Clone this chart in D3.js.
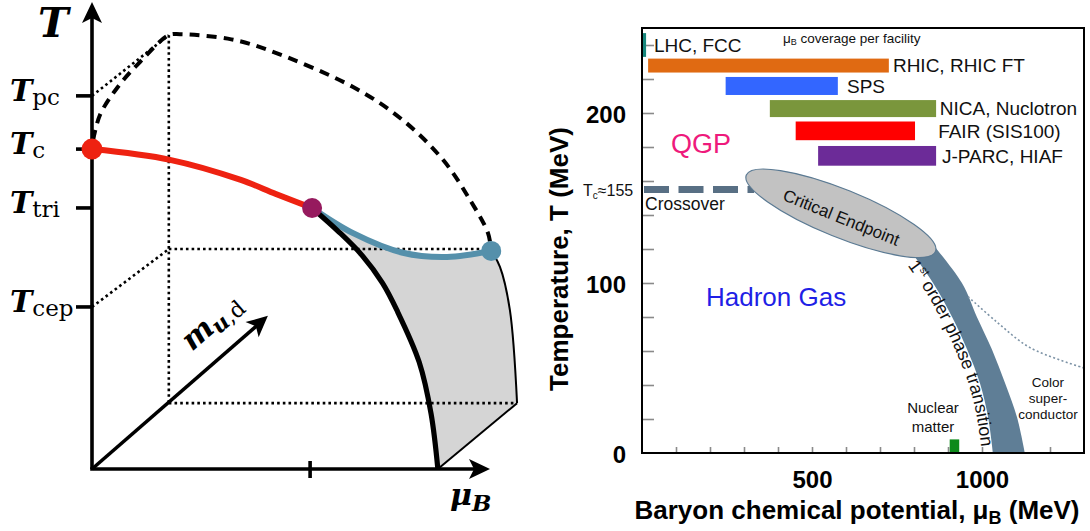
<!DOCTYPE html>
<html><head><meta charset="utf-8">
<script src="https://cdn.jsdelivr.net/npm/d3@7"></script>
<style>
  body { margin: 0; background: #fff; }
  svg { display: block; }
</style>
</head><body>
<svg id="fig" width="1090" height="531"></svg>
<script>
// ================= Left panel: schematic (mu_B, T, m_ud) phase diagram =================
// normalised units: mu_B in [0,1] along the horizontal axis, T in [0,1] along the vertical axis
const tempTickNames = ["pc", "c", "tri", "cep"];
const tempTickT     = [0.799, 0.685, 0.559, 0.347];
const muTickValue   = 0.548;
const massArrowTip  = [0.442, 0.328];
const backX = 0.193, backTop = 0.929, backMid = 0.471, backBottom = 0.141, backRight = 1.068;

// crossover line from T_c to the tricritical point
const redMu   = [0, 0.196, 0.374, 0.462, 0.553];
const redT    = [0.685, 0.662, 0.619, 0.589, 0.559];
// critical line from the tricritical point to the critical endpoint
const blueMu  = [0.553, 0.656, 0.781, 0.892, 1.003];
const blueT   = [0.559, 0.505, 0.463, 0.454, 0.467];
// first-order line at zero quark mass
const firstMu = [0.553, 0.620, 0.678, 0.730, 0.766, 0.822, 0.852, 0.869];
const firstT  = [0.559, 0.508, 0.458, 0.398, 0.340, 0.229, 0.118, 0];
// outer edge of the first-order surface
const edgeMu  = [1.003, 1.025, 1.050, 1.068];
const edgeT   = [0.467, 0.433, 0.340, 0.141];
// pseudo-critical surface boundary
const dashMu  = [0.003, 0.020, 0.063, 0.121, 0.193, 0.221, 0.35, 0.44, 0.656, 0.781, 0.882, 0.950, 0.995, 1.003];
const dashT   = [0.705, 0.758, 0.816, 0.872, 0.929, 0.931, 0.92, 0.898, 0.818, 0.747, 0.662, 0.576, 0.505, 0.467];

// ================= Right panel: QCD phase diagram with facility coverage =================
const facilities = ["LHC, FCC", "RHIC, RHIC FT", "SPS", "NICA, Nuclotron", "FAIR (SIS100)", "J-PARC, HIAF"];
const facMuLow   = [3, 18, 246, 376, 452, 518];
const facMuHigh  = [12, 726, 576, 865, 803, 865];
const facTLow    = [233, 223.8, 210.6, 197.6, 184, 169];
const facTHigh   = [247, 232, 221.2, 207.6, 195, 180.6];
const facLabelMu = [35, 738, 603, 876, 871, 882];
const facColors  = ["#17877c", "#e06a12", "#3366ff", "#7a963c", "#ff0000", "#6c2b98"];

const tempMinorTicks = [20, 40, 60, 80, 100, 120, 140, 160, 180, 200, 220, 240];
const tempLabels     = [0, 100, 200];
const muMinorTicks   = [100, 200, 300, 400, 500, 600, 700, 800, 900, 1000, 1100, 1200];
const muLabels       = [500, 1000];

const crossoverT = 155;
const crossoverMuEnd = 330;
const cepCenter = [585, 141];

const bandLeftMu  = [778, 856, 912, 956, 994, 1018, 1032];
const bandLeftT   = [122, 100, 80, 61, 41, 21, 0];
const bandRightMu = [850, 941, 985, 1029, 1068, 1103, 1126];
const bandRightT  = [124, 100, 80, 61, 41, 21, 0];

const cscMu = [959, 1044, 1141, 1300];
const cscT  = [92, 77, 62, 50];

const nuclearMu = [905, 933];
const nuclearT  = [0, 8];

// -------------------------------------------------------------------------------------
const svg = d3.select("#fig");
const zip = (a, b) => a.map((v, i) => [v, b[i]]);

// ---------- left panel ----------
const xL = d3.scaleLinear().domain([0, 1]).range([92, 490]);
const yL = d3.scaleLinear().domain([0, 1]).range([469, 2]);
const L = svg.append("g");
const smoothL = d3.line().x(d => xL(d[0])).y(d => yL(d[1])).curve(d3.curveCatmullRom.alpha(0.5));
const straightL = d3.line().x(d => xL(d[0])).y(d => yL(d[1]));

function arrowHead(g, tip, from, len, hw, notch) {
  const dx = tip[0] - from[0], dy = tip[1] - from[1];
  const n = Math.hypot(dx, dy), ux = dx / n, uy = dy / n, px = -uy, py = ux;
  const bx = tip[0] - len * ux, by = tip[1] - len * uy;
  const pts = [tip, [bx + hw * px, by + hw * py], [tip[0] - (len - notch) * ux, tip[1] - (len - notch) * uy], [bx - hw * px, by - hw * py]];
  g.append("path").attr("d", "M" + pts.map(p => p.join(",")).join("L") + "Z").attr("fill", "#000");
}

// shaded first-order surface
const bluePts = zip(blueMu, blueT), edgePts = zip(edgeMu, edgeT), firstPts = zip(firstMu, firstT);
const surface = smoothL(bluePts) + smoothL(edgePts).replace(/^M/, "L") +
  "L" + xL(firstMu[firstMu.length - 1]) + "," + yL(0) +
  smoothL(firstPts.slice().reverse()).replace(/^M/, "L") + "Z";
L.append("path").attr("d", surface).attr("fill", "#d5d5d5");

// dotted guide lines of the m_ud-shifted plane
const dotted = { stroke: "#000", "stroke-width": 2.6, "stroke-dasharray": "2.6 3.1", fill: "none" };
const guides = [
  [[0, tempTickT[0]], [backX, backTop]],
  [[backX, backTop], [backX, backBottom]],
  [[0, tempTickT[3]], [backX, backMid]],
  [[backX, backMid], [blueMu[blueMu.length - 1], backMid]],
  [[backX, backBottom], [backRight, backBottom]]
];
guides.forEach(seg => {
  const p = L.append("path").attr("d", straightL(seg));
  Object.entries(dotted).forEach(([k, v]) => p.attr(k, v));
});

// thin edge of the surface
L.append("path").attr("d", smoothL(edgePts)).attr("fill", "none").attr("stroke", "#000").attr("stroke-width", 2);
L.append("path").attr("d", straightL([[firstMu[firstMu.length - 1], 0], [backRight, backBottom]]))
  .attr("stroke", "#000").attr("stroke-width", 2);

// dashed boundary
L.append("path").attr("d", smoothL(zip(dashMu, dashT))).attr("fill", "none").attr("stroke", "#000")
  .attr("stroke-width", 4).attr("stroke-dasharray", "10 7");

// axes
L.append("line").attr("x1", xL(0)).attr("y1", yL(0)).attr("x2", xL(0)).attr("y2", yL(1) + 14)
  .attr("stroke", "#000").attr("stroke-width", 3.6);
arrowHead(L, [xL(0), yL(1)], [xL(0), yL(0)], 21, 10, 5);
L.append("line").attr("x1", xL(0) - 1.8).attr("y1", yL(0)).attr("x2", xL(1) - 14).attr("y2", yL(0))
  .attr("stroke", "#000").attr("stroke-width", 3.6);
arrowHead(L, [xL(1), yL(0)], [xL(0), yL(0)], 21, 10, 5);
L.append("line").attr("x1", xL(0)).attr("y1", yL(0)).attr("x2", xL(massArrowTip[0]) - 10).attr("y2", yL(massArrowTip[1]) + 9)
  .attr("stroke", "#000").attr("stroke-width", 3.6);
arrowHead(L, [xL(massArrowTip[0]), yL(massArrowTip[1])], [xL(0), yL(0)], 21, 10, 5);

// ticks
tempTickT.forEach(t => L.append("line").attr("x1", xL(0) - 16).attr("x2", xL(0)).attr("y1", yL(t)).attr("y2", yL(t))
  .attr("stroke", "#000").attr("stroke-width", 3.6));
L.append("line").attr("x1", xL(muTickValue)).attr("x2", xL(muTickValue)).attr("y1", yL(0) - 8).attr("y2", yL(0) + 9)
  .attr("stroke", "#000").attr("stroke-width", 3.6);

// first-order line, critical line, crossover line
L.append("path").attr("d", smoothL(bluePts)).attr("fill", "none").attr("stroke", "#5590ab").attr("stroke-width", 6);
L.append("path").attr("d", smoothL(firstPts)).attr("fill", "none").attr("stroke", "#000").attr("stroke-width", 5.2);
L.append("path").attr("d", smoothL(zip(redMu, redT))).attr("fill", "none").attr("stroke", "#ee2211").attr("stroke-width", 6);

// special points
L.append("circle").attr("cx", xL(redMu[0])).attr("cy", yL(redT[0])).attr("r", 10.5).attr("fill", "#ee2211");
L.append("circle").attr("cx", xL(redMu[redMu.length - 1])).attr("cy", yL(redT[redT.length - 1])).attr("r", 10).attr("fill", "#961a5e");
L.append("circle").attr("cx", xL(blueMu[blueMu.length - 1])).attr("cy", yL(blueT[blueT.length - 1])).attr("r", 10).attr("fill", "#5590ab");

// labels
const serif = "'DejaVu Serif', 'Liberation Serif', serif";
L.append("text").attr("x", 38).attr("y", 37).attr("font-family", serif).attr("font-weight", "bold")
  .attr("font-style", "italic").attr("font-size", 41).text("T");
tempTickNames.forEach((name, i) => {
  const t = L.append("text").attr("x", 10).attr("y", yL(tempTickT[i]) + 5).attr("font-family", serif);
  t.append("tspan").attr("font-weight", "bold").attr("font-style", "italic").attr("font-size", 30).text("T");
  t.append("tspan").attr("font-size", 23).attr("dy", 4).text(name);
});
const mLab = L.append("text").attr("font-family", serif)
  .attr("transform", `translate(${xL(massArrowTip[0]) - 76},${yL(massArrowTip[1]) + 36}) rotate(-41)`);
mLab.append("tspan").attr("font-weight", "bold").attr("font-style", "italic").attr("font-size", 30).text("m");
mLab.append("tspan").attr("font-weight", "bold").attr("font-style", "italic").attr("font-size", 22).attr("dy", 5).text("u");
mLab.append("tspan").attr("font-size", 22).text(",d");
const muLab = L.append("text").attr("x", xL(1) - 40).attr("y", yL(0) + 36).attr("font-family", serif);
muLab.append("tspan").attr("font-weight", "bold").attr("font-style", "italic").attr("font-size", 30).text("μ");
muLab.append("tspan").attr("font-style", "italic").attr("font-weight", "bold").attr("font-size", 23).attr("dy", 6).text("B");

// ---------- right panel ----------
const xR = d3.scaleLinear().domain([0, 1300]).range([642, 1084]);
const yR = d3.scaleLinear().domain([0, 250]).range([453, 28]);
const R = svg.append("g");
const sans = "'Liberation Sans', Arial, Helvetica, sans-serif";
const smoothR = d3.line().x(d => xR(d[0])).y(d => yR(d[1])).curve(d3.curveCatmullRom.alpha(0.5));

// minor ticks (inside the frame)
R.append("g").attr("transform", `translate(${xR(0)},0)`)
  .call(d3.axisRight(yR).tickValues(tempMinorTicks).tickSize(12).tickFormat(""))
  .call(g => g.select(".domain").remove())
  .selectAll("line").attr("stroke", "#8a8a8a").attr("stroke-width", 1.6);
R.append("g").attr("transform", `translate(0,${yR(0)})`)
  .call(d3.axisTop(xR).tickValues(muMinorTicks).tickSize(6).tickFormat(""))
  .call(g => g.select(".domain").remove())
  .selectAll("line").attr("stroke", "#8a8a8a").attr("stroke-width", 1.6);

// tick labels
R.append("g").attr("transform", `translate(${xR(0)},2)`)
  .call(d3.axisLeft(yR).tickValues(tempLabels).tickSize(0).tickPadding(16).tickFormat(d3.format("d")))
  .call(g => g.select(".domain").remove())
  .selectAll("text").attr("font-family", sans).attr("font-weight", "bold").attr("font-size", 24).attr("fill", "#000");
R.append("g").attr("transform", `translate(0,${yR(0)})`)
  .call(d3.axisBottom(xR).tickValues(muLabels).tickSize(0).tickPadding(18).tickFormat(d3.format("d")))
  .call(g => g.select(".domain").remove())
  .selectAll("text").attr("font-family", sans).attr("font-weight", "bold").attr("font-size", 24).attr("fill", "#000");

// crossover (dashed)
R.append("line").attr("x1", xR(0)).attr("x2", xR(crossoverMuEnd)).attr("y1", yR(crossoverT)).attr("y2", yR(crossoverT))
  .attr("stroke", "#586f84").attr("stroke-width", 7).attr("stroke-dasharray", "25 9.5").attr("stroke-dashoffset", -2);

// first-order band
const band = smoothR(zip(bandLeftMu, bandLeftT)) +
  smoothR(zip(bandRightMu, bandRightT).reverse()).replace(/^M/, "L") + "Z";
R.append("path").attr("d", band).attr("fill", "#5f7e96");

// colour-superconductor boundary
R.append("path").attr("d", smoothR(zip(cscMu, cscT))).attr("fill", "none").attr("stroke", "#7d93a6")
  .attr("stroke-width", 1.6).attr("stroke-dasharray", "2 2.4");

// critical endpoint
const cep = R.append("g").attr("transform", `translate(${xR(cepCenter[0])},${yR(cepCenter[1])}) rotate(22)`);
cep.append("ellipse").attr("rx", 102).attr("ry", 24).attr("fill", "#c2c2c2").attr("stroke", "#5b7a93").attr("stroke-width", 1.2);
cep.append("text").attr("x", 2).attr("y", 4).attr("text-anchor", "middle").attr("dominant-baseline", "central")
  .attr("font-family", sans).attr("font-size", 17).attr("fill", "#111").text("Critical Endpoint");

// nuclear matter
R.append("rect").attr("x", xR(nuclearMu[0])).attr("y", yR(nuclearT[1]))
  .attr("width", xR(nuclearMu[1]) - xR(nuclearMu[0])).attr("height", yR(nuclearT[0]) - yR(nuclearT[1]))
  .attr("fill", "#0d8a1a");

// facility coverage bars
facilities.forEach((name, i) => {
  R.append("rect").attr("x", xR(facMuLow[i])).attr("y", yR(facTHigh[i]))
    .attr("width", xR(facMuHigh[i]) - xR(facMuLow[i])).attr("height", yR(facTLow[i]) - yR(facTHigh[i]))
    .attr("fill", facColors[i]);
  R.append("text").attr("x", xR(facLabelMu[i])).attr("y", (yR(facTLow[i]) + yR(facTHigh[i])) / 2)
    .attr("dy", "0.36em").attr("font-family", sans).attr("font-size", 19).attr("fill", "#111").text(name);
});
const cov = R.append("text").attr("x", 783).attr("y", 43).attr("font-family", sans).attr("font-size", 13.5).attr("fill", "#111");
cov.append("tspan").text("μ");
cov.append("tspan").attr("font-size", 9).attr("dy", 2).text("B");
cov.append("tspan").attr("dy", -2).text(" coverage per facility");

// frame
R.append("rect").attr("x", xR(0)).attr("y", yR(250)).attr("width", xR(1300) - xR(0)).attr("height", yR(0) - yR(250))
  .attr("fill", "none").attr("stroke", "#000").attr("stroke-width", 2);

// region labels
R.append("text").attr("x", 671).attr("y", 153).attr("font-family", sans).attr("font-size", 27).attr("fill", "#ee1a7c").text("QGP");
R.append("text").attr("x", 706).attr("y", 306).attr("font-family", sans).attr("font-size", 26).attr("fill", "#1f1fe6").text("Hadron Gas");
const tcLab = R.append("text").attr("x", 583).attr("y", yR(crossoverT) + 6).attr("font-family", sans).attr("font-size", 16).attr("fill", "#111");
tcLab.append("tspan").text("T");
tcLab.append("tspan").attr("font-size", 10).attr("dy", 3).text("c");
tcLab.append("tspan").attr("dy", -3).text("≈155");
R.append("text").attr("x", 645).attr("y", 210).attr("font-family", sans).attr("font-size", 17.5).attr("fill", "#111").text("Crossover");

[["Nuclear", 413], ["matter", 432]].forEach(([s, y]) =>
  R.append("text").attr("x", 933).attr("y", y).attr("text-anchor", "middle").attr("font-family", sans)
    .attr("font-size", 15).attr("fill", "#111").text(s));
[["Color", 387], ["super-", 403], ["conductor", 419]].forEach(([s, y]) =>
  R.append("text").attr("x", 1048).attr("y", y).attr("text-anchor", "middle").attr("font-family", sans)
    .attr("font-size", 13.5).attr("fill", "#111").text(s));

// label along the first-order band, offset outward from its left edge
const edgePx = zip(bandLeftMu, bandLeftT).map(d => [xR(d[0]), yR(d[1])]);
const offPx = edgePx.map((p, i) => {
  const a = edgePx[Math.max(0, i - 1)], b = edgePx[Math.min(edgePx.length - 1, i + 1)];
  const dx = b[0] - a[0], dy = b[1] - a[1], n = Math.hypot(dx, dy);
  return [p[0] - 11 * dy / n, p[1] + 11 * dx / n];
});
R.append("defs").append("path").attr("id", "firstOrderPath")
  .attr("d", d3.line().curve(d3.curveCatmullRom.alpha(0.5))(offPx));
const fo = R.append("text").attr("font-family", sans).attr("font-size", 18).attr("fill", "#111")
  .append("textPath").attr("href", "#firstOrderPath").attr("startOffset", 17);
fo.append("tspan").text("1");
fo.append("tspan").attr("font-size", 11).attr("dy", -7).text("st");
fo.append("tspan").attr("dy", 7).text(" order phase transition");

// axis titles
const yt = R.append("text").attr("transform", "translate(568,259) rotate(-90)").attr("text-anchor", "middle")
  .attr("font-family", sans).attr("font-weight", "bold").attr("font-size", 26).attr("fill", "#000");
yt.text("Temperature, T (MeV)");
const xt = R.append("text").attr("x", 857).attr("y", 519).attr("text-anchor", "middle")
  .attr("font-family", sans).attr("font-weight", "bold").attr("font-size", 26).attr("fill", "#000");
xt.append("tspan").text("Baryon chemical potential, μ");
xt.append("tspan").attr("font-size", 18).attr("dy", 5).text("B");
xt.append("tspan").attr("dy", -5).text(" (MeV)");
</script>
</body></html>
